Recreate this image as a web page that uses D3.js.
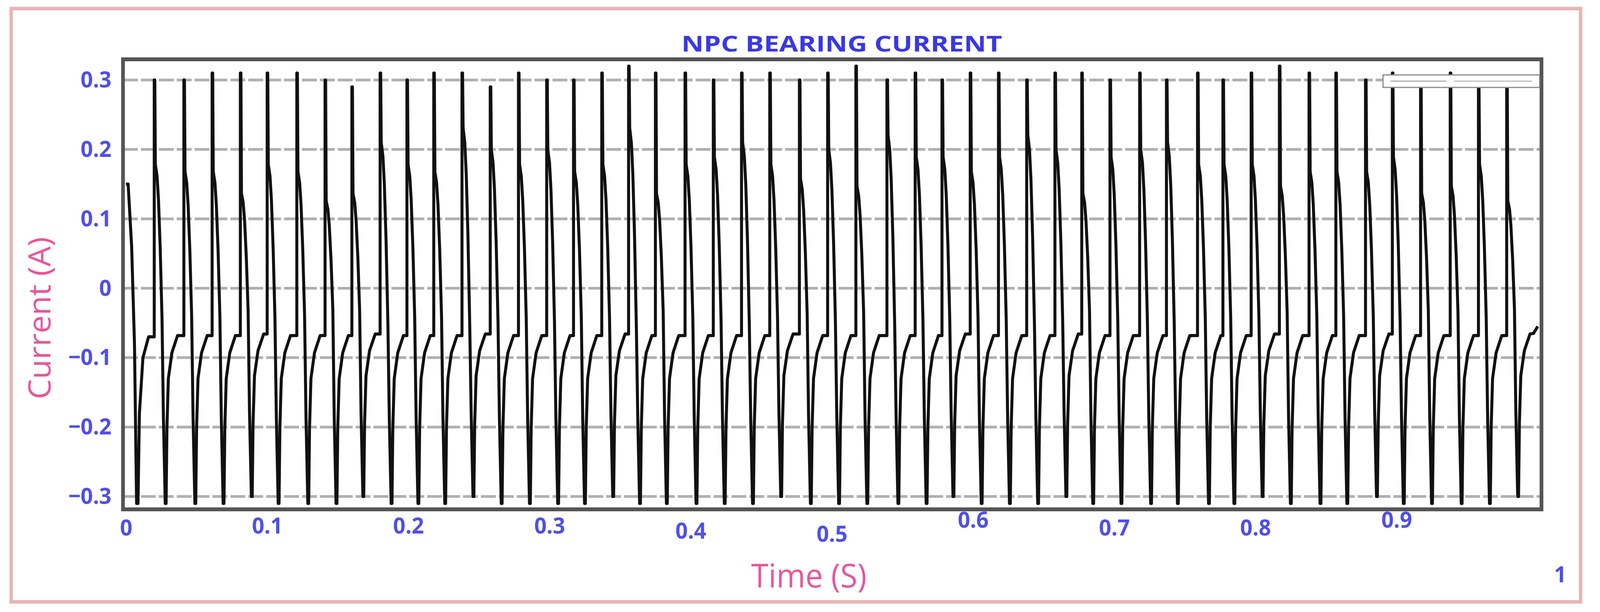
<!DOCTYPE html>
<html>
<head>
<meta charset="utf-8">
<script src="https://cdn.jsdelivr.net/npm/d3@7"></script>
<style>
  html, body { margin: 0; padding: 0; background: #fff; overflow: hidden; width: 100%; height: 100%; }
  svg { display: block; width: 100vw; height: 100vh; }
  text { font-family: "Open Sans", "DejaVu Sans", sans-serif; }
</style>
</head>
<body>
<svg id="chart" viewBox="0 0 4292 1568" preserveAspectRatio="none"></svg>
<script>
// tick labels
const yTicks = [-0.3, -0.2, -0.1, 0, 0.1, 0.2, 0.3];
const xTicks = [0, 0.1, 0.2, 0.3, 0.4, 0.5, 0.6, 0.7, 0.8, 0.9, 1];
const xTickLabels = ["0", "0.1", "0.2", "0.3", "0.4", "0.5", "0.6", "0.7", "0.8", "0.9", "1"];

// times (s) of each sharp rise to the positive peak
const riseTimes = [0.020, 0.041, 0.061, 0.081, 0.100, 0.121, 0.141, 0.160, 0.180, 0.199,
  0.218, 0.238, 0.258, 0.278, 0.298, 0.317, 0.337, 0.356, 0.375, 0.396,
  0.416, 0.436, 0.456, 0.477, 0.497, 0.517, 0.539, 0.559, 0.578, 0.598,
  0.618, 0.638, 0.658, 0.677, 0.697, 0.718, 0.737, 0.759, 0.777, 0.797,
  0.817, 0.838, 0.857, 0.878, 0.897, 0.917, 0.938, 0.958, 0.978];
// top of each spike (A)
const peakHigh = [0.30, 0.30, 0.31, 0.31, 0.31, 0.31, 0.30, 0.29, 0.31, 0.30,
  0.31, 0.31, 0.29, 0.31, 0.30, 0.30, 0.31, 0.32, 0.31, 0.31,
  0.30, 0.31, 0.31, 0.30, 0.31, 0.32, 0.30, 0.31, 0.30, 0.31,
  0.31, 0.30, 0.31, 0.31, 0.30, 0.31, 0.30, 0.31, 0.30, 0.31,
  0.32, 0.31, 0.31, 0.30, 0.31, 0.30, 0.31, 0.29, 0.30];
// level of the shoulder right after each spike (A)
const shoulder = [0.17, 0.16, 0.16, 0.13, 0.17, 0.16, 0.12, 0.13, 0.20, 0.17,
  0.16, 0.22, 0.19, 0.17, 0.19, 0.16, 0.17, 0.22, 0.13, 0.17,
  0.18, 0.20, 0.17, 0.15, 0.19, 0.14, 0.21, 0.18, 0.18, 0.16,
  0.18, 0.21, 0.19, 0.13, 0.18, 0.19, 0.20, 0.17, 0.17, 0.17,
  0.14, 0.16, 0.16, 0.16, 0.18, 0.13, 0.14, 0.17, 0.12];
// lowest value reached after each drop (A)
const troughLow = [-0.31, -0.31, -0.31, -0.30, -0.31, -0.31, -0.31, -0.30, -0.31, -0.31,
  -0.31, -0.30, -0.31, -0.31, -0.31, -0.31, -0.30, -0.31, -0.31, -0.31,
  -0.31, -0.31, -0.30, -0.31, -0.31, -0.31, -0.31, -0.31, -0.30, -0.31,
  -0.31, -0.31, -0.30, -0.31, -0.31, -0.31, -0.31, -0.31, -0.31, -0.30,
  -0.31, -0.31, -0.31, -0.30, -0.31, -0.31, -0.31, -0.31, -0.30];
// shape of one cycle: offset after the rise (s) and fraction of the shoulder / trough
const cycleDt = [0.0004, 0.0008, 0.0020, 0.0030, 0.0042, 0.0055, 0.0065, 0.0078, 0.0084, 0.0090, 0.0100, 0.0125, 0.0165];
const cycleKind = ["peak", "sh", "sh", "sh", "sh", "sh", "lo", "lo", "lo", "lo", "lo", "lo", "lo"];
const cycleFrac = [1, 1.05, 0.95, 0.75, 0.35, -0.25, 0.6, 1, 1, 0.65, 0.42, 0.3, 0.22];
// start of the record, before the first rise
const startT = [0, 0.0015, 0.004, 0.006, 0.0075, 0.0085, 0.0095, 0.012, 0.016];
const startV = [0.15, 0.15, 0.06, -0.08, -0.31, -0.31, -0.18, -0.10, -0.07];
// end of the record, after the last cycle
const endT = [0.997, 1.0];
const endV = [-0.065, -0.055];

const svg = d3.select("#chart");

// outer pink frame
svg.append("rect").attr("x", 30).attr("y", 22).attr("width", 4210).attr("height", 1520)
  .attr("fill", "none").attr("stroke", "#e8b4b4").attr("stroke-width", 9);

const plotLeft = 330, plotRight = 4135, plotTop = 152, plotBottom = 1305;
const x = d3.scaleLinear().domain([0, 1]).range([plotLeft + 8, plotRight - 10]);
const y = d3.scaleLinear().domain([-0.3, 0.3]).range([1272, 205]);

// dashed grid
svg.append("g").selectAll("line").data(yTicks).enter().append("line")
  .attr("x1", plotLeft).attr("x2", plotRight)
  .attr("y1", d => y(d)).attr("y2", d => y(d))
  .attr("stroke", "#b0b0b0").attr("stroke-width", 7).attr("stroke-dasharray", "40,8");

// build waveform points
const pts = startT.map((t, i) => [t, startV[i]]);
riseTimes.forEach((r, i) => {
  pts.push([r, pts[pts.length - 1][1]]);
  pts.push([r, peakHigh[i]]);
  cycleDt.forEach((dt, k) => {
    let v;
    if (cycleKind[k] === "peak") v = peakHigh[i];
    else if (cycleKind[k] === "sh") v = shoulder[i] * cycleFrac[k];
    else v = troughLow[i] * cycleFrac[k];
    pts.push([r + dt, v]);
  });
});
endT.forEach((t, i) => pts.push([t, endV[i]]));

const line = d3.line().x(d => x(d[0])).y(d => y(d[1]));
svg.append("path").datum(pts).attr("d", line)
  .attr("fill", "none").attr("stroke", "#111").attr("stroke-width", 8)
  .attr("stroke-linejoin", "round");

// plot frame
svg.append("rect").attr("x", plotLeft).attr("y", plotTop)
  .attr("width", plotRight - plotLeft).attr("height", plotBottom - plotTop)
  .attr("fill", "none").attr("stroke", "#555").attr("stroke-width", 10);

// small legend box
svg.append("rect").attr("x", 3710).attr("y", 192).attr("width", 420).attr("height", 32)
  .attr("fill", "#fff").attr("stroke", "#888").attr("stroke-width", 3);
svg.append("line").attr("x1", 3730).attr("x2", 3880).attr("y1", 208).attr("y2", 208)
  .attr("stroke", "#bbb").attr("stroke-width", 4);
svg.append("line").attr("x1", 3900).attr("x2", 4110).attr("y1", 208).attr("y2", 208)
  .attr("stroke", "#ccc").attr("stroke-width", 4);

// y axis
const yAxis = d3.axisLeft(y).tickValues(yTicks).tickSize(0).tickPadding(26)
  .tickFormat(d => d3.format("")(+d.toFixed(1)));
const gy = svg.append("g").attr("transform", `translate(${plotLeft - 5},0)`).call(yAxis);
gy.select(".domain").remove();
gy.selectAll("text").attr("fill", "#4f4fe8").attr("font-size", 58).attr("font-weight", "bold");

// x axis with the slightly staggered labels of the original
const xDy = [0, -5, -5, -5, 8, 16, -20, 0, 0, -20, 120];
const xDx = [0, 0, 0, 0, 0, 0, 0, 0, 0, 0, 60];
const xAxis = d3.axisBottom(x).tickValues(xTicks).tickSize(0).tickPadding(26)
  .tickFormat((d, i) => xTickLabels[i]);
const gx = svg.append("g").attr("transform", `translate(0,${plotBottom})`).call(xAxis);
gx.select(".domain").remove();
gx.selectAll("text").attr("fill", "#4f4fe8").attr("font-size", 58).attr("font-weight", "bold")
  .attr("transform", (d, i) => `translate(${xDx[i]},${xDy[i]})`);

// title and axis labels
svg.append("text").attr("x", 2258).attr("y", 132).attr("text-anchor", "middle")
  .attr("fill", "#3838e8").attr("font-size", 56).attr("font-weight", "bold")
  .attr("textLength", 860).attr("lengthAdjust", "spacingAndGlyphs")
  .text("NPC BEARING CURRENT");
svg.append("text").attr("x", 2170).attr("y", 1505).attr("text-anchor", "middle")
  .attr("fill", "#e8559a").attr("font-size", 84).text("Time (S)");
svg.append("text").attr("transform", "translate(135,815) rotate(-90)").attr("text-anchor", "middle")
  .attr("fill", "#e8559a").attr("font-size", 82).text("Current (A)");
</script>
</body>
</html>
